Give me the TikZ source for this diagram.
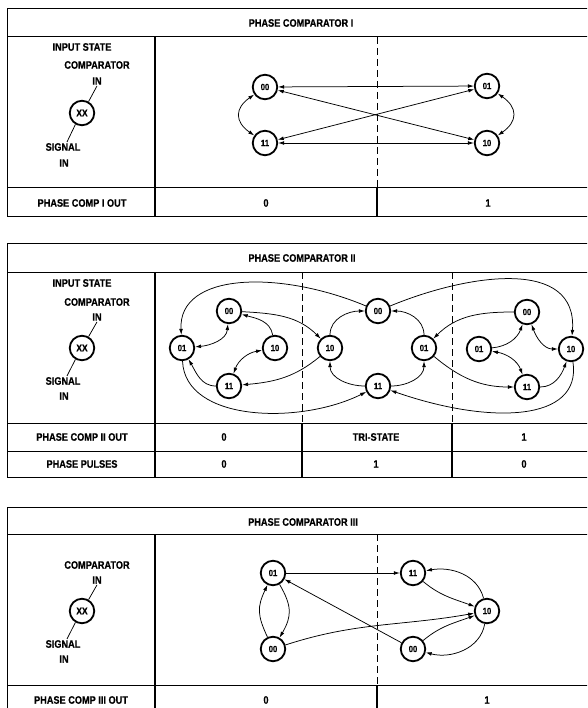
\documentclass[tikz,border=0pt]{standalone}
\usepackage{fontspec}
\newfontfamily\cf[FakeStretch=0.85,FakeBold=0.6]{Liberation Sans}
\usetikzlibrary{arrows.meta}
\begin{document}
\begin{tikzpicture}[x=1pt,y=1pt,
  lbl/.style={font=\cf\bfseries\fontsize{10.8}{12}\selectfont, inner sep=0pt},
  st/.style={circle,draw,line width=1.8pt,minimum size=24.5pt,inner sep=0pt,font=\cf\bfseries\fontsize{9}{10}\selectfont},
  xxs/.style={st,font=\cf\bfseries\fontsize{10}{11}\selectfont},
  con/.style={line width=0.75pt},
  ar/.style={con,-{Latex[length=6pt,width=3.8pt]}},
  dar/.style={con,{Latex[length=6pt,width=3.8pt]}-{Latex[length=6pt,width=3.8pt]}},
  grid/.style={line width=1pt},
  vgrid/.style={line width=1.3pt},
  dsh/.style={line width=0.9pt,dash pattern=on 7pt off 4pt}
]
\useasboundingbox (0,0) rectangle (587,-708);
\clip (0,0) rectangle (587,-708);

% ================= PANEL I =================
\draw[grid] (7,-9) rectangle (590,-217);
\draw[grid] (7,-37) -- (590,-37);
\draw[grid] (7,-188) -- (590,-188);
\draw[vgrid] (155,-37) -- (155,-217);
\draw[dsh] (377,-37) -- (377,-188);
\draw[vgrid] (377,-188) -- (377,-217);

\node[lbl] (t1) at (301,-23) {PHASE COMPARATOR I};
\node[lbl] (is1) at (82,-47) {INPUT STATE};
\node[lbl] (cc1) at (97,-65) {COMPARATOR};
\node[lbl] (ci1) at (97,-81) {IN};
\node[xxs] (xx1) at (82,-113) {XX};
\node[lbl] (sg1) at (63,-147) {SIGNAL};
\node[lbl] (si1) at (64,-163) {IN};
\draw[con] ([yshift=-1pt]ci1.south) -- (xx1.60);
\draw[con] (xx1.-120) -- ([xshift=4pt,yshift=1pt]sg1.north);
\node[lbl] (o1) at (82,-203) {PHASE COMP I OUT};
\node[lbl] (o1a) at (266,-203) {0};
\node[lbl] (o1b) at (488,-203) {1};

\node[st] (a00) at (265,-87) {00};
\node[st] (a11) at (265,-143) {11};
\node[st] (a01) at (487,-86) {01};
\node[st] (a10) at (487,-143) {10};
\draw[dar] (a00) -- (a01);
\draw[dar] (a11) -- (a10);
\draw[dar] (a00) -- (a10);
\draw[dar] (a11) -- (a01);
\draw[dar] (a00) to[out=215,in=145,looseness=1.5] (a11);
\draw[dar] (a01) to[out=-35,in=35,looseness=1.5] (a10);

% ================= PANEL II =================
\draw[grid] (7,-244) rectangle (590,-477);
\draw[grid] (7,-272) -- (590,-272);
\draw[grid] (7,-423) -- (590,-423);
\draw[grid] (7,-451) -- (590,-451);
\draw[vgrid] (155,-272) -- (155,-477);
\draw[dsh] (302,-272) -- (302,-423);
\draw[dsh] (452,-272) -- (452,-423);
\draw[vgrid] (302,-423) -- (302,-477);
\draw[vgrid] (452,-423) -- (452,-477);

\node[lbl] (t2) at (302,-258) {PHASE COMPARATOR II};
\node[lbl] (is2) at (82,-283) {INPUT STATE};
\node[lbl] (cc2) at (97,-302) {COMPARATOR};
\node[lbl] (ci2) at (97,-317) {IN};
\node[xxs] (xx2) at (82,-348) {XX};
\node[lbl] (sg2) at (63,-381) {SIGNAL};
\node[lbl] (si2) at (64,-396) {IN};
\draw[con] ([yshift=-1pt]ci2.south) -- (xx2.60);
\draw[con] (xx2.-120) -- ([xshift=4pt,yshift=1pt]sg2.north);
\node[lbl] (o2) at (82,-437) {PHASE COMP II OUT};
\node[lbl] (o2a) at (224,-437) {0};
\node[lbl] (o2b) at (376,-437) {TRI-STATE};
\node[lbl] (o2c) at (524,-437) {1};
\node[lbl] (p2) at (82,-464) {PHASE PULSES};
\node[lbl] (p2a) at (224,-464) {0};
\node[lbl] (p2b) at (376,-464) {1};
\node[lbl] (p2c) at (524,-464) {0};

\node[st] (b00L) at (229,-311) {00};
\node[st] (b01L) at (182,-348) {01};
\node[st] (b10L) at (275,-348) {10};
\node[st] (b11L) at (229,-386) {11};
\node[st] (b10M) at (330,-348) {10};
\node[st] (b00M) at (378,-311) {00};
\node[st] (b11M) at (378,-386) {11};
\node[st] (b01M) at (424,-348) {01};
\node[st] (b00R) at (527,-312) {00};
\node[st] (b01R) at (479,-349) {01};
\node[st] (b10R) at (571,-349) {10};
\node[st] (b11R) at (527,-387) {11};

% left group
\draw[dar] (b00L) to[out=-95,in=5] (b01L);
\draw[ar] (b10L) to[out=100,in=-15] (b00L);
\draw[dar] (b10L) to[out=190,in=70] (b11L);
\draw[ar] (b11L) to[out=180,in=-60] (b01L);
\draw[ar] (b00L) to[out=-3,in=135] (b10M);
\draw[ar] (b10M) to[out=-140,in=5] (b11L);
\draw[ar] (b00M) .. controls (280,-270) and (178,-272) .. (b01L);
\draw[ar] (b01L) .. controls (185,-422) and (300,-425) .. (b11M);
% middle group
\draw[ar] (b10M) to[out=90,in=180] (b00M);
\draw[ar] (b01M) to[out=90,in=0] (b00M);
\draw[ar] (b11M) to[out=180,in=-90] (b10M);
\draw[ar] (b11M) to[out=0,in=-90] (b01M);
\draw[ar] (b00M) .. controls (470,-273) and (578,-258) .. (b10R);
\draw[ar] (b00R) to[out=180,in=45] (b01M);
\draw[ar] (b01M) to[out=-40,in=180] (b11R);
\draw[ar] (b10R) .. controls (582,-422) and (490,-425) .. (b11M);
% right group
\draw[ar] (b01R) to[out=5,in=-110] (b00R);
\draw[dar] (b00R) to[out=-70,in=180] (b10R);
\draw[dar] (b01R) to[out=-10,in=110] (b11R);
\draw[ar] (b11R) to[out=0,in=-110] (b10R);

% ================= PANEL III =================
\draw[grid] (7,-507) rectangle (590,-720);
\draw[grid] (7,-534) -- (590,-534);
\draw[grid] (7,-685) -- (590,-685);
\draw[vgrid] (155,-534) -- (155,-720);
\draw[dsh] (377,-534) -- (377,-685);
\draw[vgrid] (377,-685) -- (377,-720);

\node[lbl] (t3) at (303,-522) {PHASE COMPARATOR III};
\node[lbl] (cc3) at (97,-565) {COMPARATOR};
\node[lbl] (ci3) at (97,-580) {IN};
\node[xxs] (xx3) at (82,-611) {XX};
\node[lbl] (sg3) at (63,-644) {SIGNAL};
\node[lbl] (si3) at (64,-659) {IN};
\draw[con] ([yshift=-1pt]ci3.south) -- (xx3.60);
\draw[con] (xx3.-120) -- ([xshift=4pt,yshift=1pt]sg3.north);
\node[lbl] (o3) at (81,-700) {PHASE COMP III OUT};
\node[lbl] (o3a) at (266,-700) {0};
\node[lbl] (o3b) at (487,-700) {1};

\node[st] (c01) at (273,-573) {01};
\node[st] (c00) at (273,-649) {00};
\node[st] (c11) at (413,-573) {11};
\node[st] (c10) at (487,-611) {10};
\node[st] (c00R) at (413,-649) {00};
\draw[ar] (c01) -- (c11);
\draw[ar] (c00) to[out=115,in=-115,looseness=1.2] (c01);
\draw[ar] (c01) to[out=-60,in=60,looseness=1.2] (c00);
\draw[ar] (c00R) -- (c01);
\draw[ar] (c00) to[out=18,in=190] (c10);
\draw[ar] (c11) to[out=-40,in=160] (c10);
\draw[ar] (c10) to[out=105,in=10] (c11);
\draw[ar] (c10) to[out=-100,in=-15] (c00R);
\draw[ar] (c00R) to[out=40,in=200] (c10);
\end{tikzpicture}
\end{document}
